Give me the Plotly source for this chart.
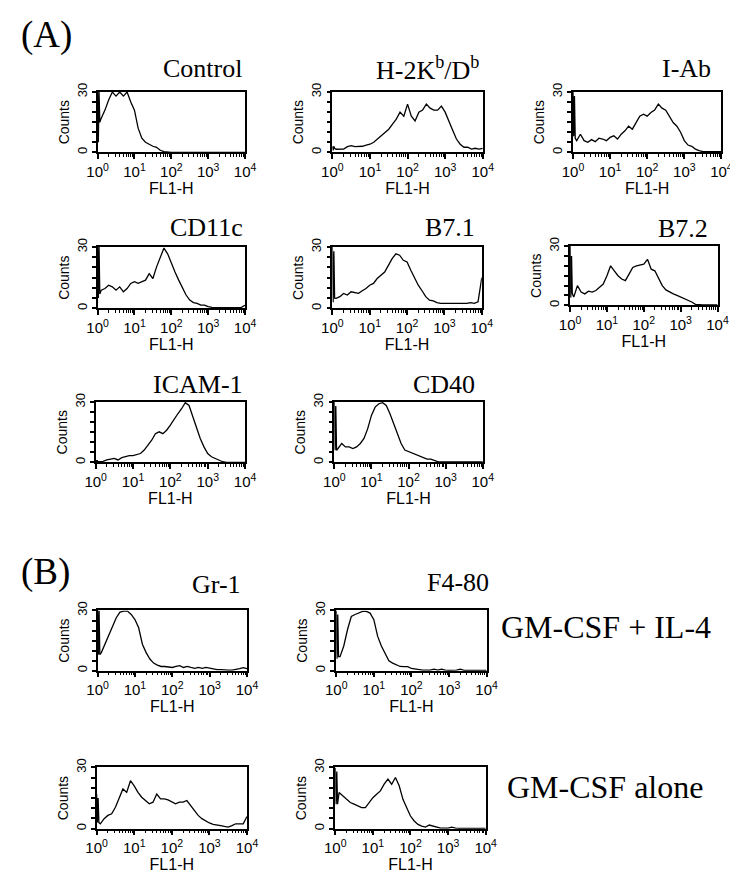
import plotly.graph_objects as go

# FL1-H channel positions, expressed as decades (10^e); first four points are the off-scale edge channels
FL1_EXPONENTS = [0.0, 0.02, 0.04, 0.06,
                 0.1, 0.2, 0.3, 0.4, 0.5, 0.6, 0.7, 0.8, 0.9, 1.0,
                 1.1, 1.2, 1.3, 1.4, 1.5, 1.6, 1.7, 1.8, 1.9, 2.0,
                 2.1, 2.2, 2.3, 2.4, 2.5, 2.6, 2.7, 2.8, 2.9, 3.0,
                 3.1, 3.2, 3.3, 3.4, 3.5, 3.6, 3.7, 3.8, 3.9, 4.0]

DECADE_TICKS = [1, 10, 100, 1000, 10000]
DECADE_LABELS = ["10<sup>0</sup>", "10<sup>1</sup>", "10<sup>2</sup>", "10<sup>3</sup>", "10<sup>4</sup>"]
MINOR_TICKS = [2, 3, 4, 5, 6, 7, 8, 9, 20, 30, 40, 50, 60, 70, 80, 90,
               200, 300, 400, 500, 600, 700, 800, 900, 2000, 3000, 4000, 5000, 6000, 7000, 8000, 9000]

PANEL_TITLES = ["Control", "H-2K<sup>b</sup>/D<sup>b</sup>", "I-Ab", "CD11c", "B7.1", "B7.2",
                "ICAM-1", "CD40", "Gr-1", "F4-80", "", ""]

CONTROL = [30, 5, 30, 15,
           17, 21, 26, 30, 28, 30, 28, 30, 25, 21,
           12, 7, 5, 4, 3, 2.5, 1, 0.3, 0, 0,
           0, 0, 0, 0, 0, 0, 0, 0, 0, 0,
           0, 0, 0, 0, 0, 0, 0, 0, 0, 0]
H2K_DB = [3, 1, 3, 2,
          1.5, 1.5, 1.6, 2.8, 3.3, 2.8, 3, 3, 3.6, 4,
          5, 6.6, 8, 10, 11.5, 14, 16.5, 20, 18, 24,
          18, 15.6, 20, 21, 24, 22, 21, 21, 23, 20,
          15, 11, 6.6, 4, 2.5, 2.5, 1.6, 2, 1.6, 2]
I_AB = [30, 8, 28, 7,
        5.8, 9, 5.8, 5, 6.3, 5.3, 7, 6.6, 5.8, 7.4,
        8.2, 6.6, 9, 10.7, 13, 11.5, 14.8, 18, 19, 18,
        19.8, 21, 24, 22, 21, 18, 14.8, 13, 10, 5.8,
        3.6, 3, 1.6, 0.8, 0.3, 0.3, 0.3, 0.3, 0.3, 0.3]
CD11C = [30, 5, 30, 7,
         8.9, 9.7, 11.3, 10.5, 8.9, 10.5, 8.1, 9.7, 12.2, 13,
         12.2, 13, 13.8, 17, 14.6, 20.3, 25, 29.5, 26.7, 21.9,
         17.8, 13.8, 9.7, 6.5, 4, 2.8, 2.4, 1.6, 1.6, 0.8,
         0.5, 0.3, 0.3, 0.3, 0.3, 0.3, 0.3, 0.3, 0.5, 1.5]
B7_1 = [30, 3, 28, 5,
        4.9, 5.7, 7.3, 6.5, 8.1, 7.6, 7.3, 8.6, 9.7, 11.3,
        12.2, 14.6, 16.2, 17.8, 21, 24.3, 26.7, 26, 23.5, 22.7,
        18.6, 14.6, 11.3, 8.6, 5.7, 4, 3.6, 2.8, 2.4, 2.4,
        2.4, 2.1, 2.4, 2.1, 2.4, 2.4, 2.8, 2.4, 3.2, 15]
B7_2 = [30, 4, 25, 6,
        4.2, 10, 6.7, 5.8, 7.2, 6.7, 7.5, 9.2, 10.8, 15,
        20, 17.5, 15, 13.3, 12.5, 15.8, 19.2, 20, 20.5, 20.8,
        23.3, 18.3, 17.5, 13.3, 10, 7.8, 6.7, 5.8, 5, 4.2,
        3.7, 2.5, 1.7, 0.5, 0.2, 0.2, 0.2, 0.2, 0.2, 0.2]
ICAM_1 = [1, 0.3, 1, 0.3,
          0.3, 0.5, 1.2, 1.6, 2, 1.2, 2.3, 2.8, 3.3, 3.3,
          4, 4.4, 6.1, 8.6, 11, 14.3, 15.2, 14.3, 16, 18.5,
          21.7, 24.2, 26.7, 29.7, 28.3, 22.6, 16.8, 11.9, 7.7, 4.4,
          2.8, 2, 1.2, 0.3, 0, 0, 0, 0, 0, 0]
CD40 = [30, 6, 28, 6,
        6.9, 9.4, 7.7, 7.7, 6.9, 7.7, 9.4, 11.9, 16.8, 23.4,
        27.5, 29.2, 29.7, 28.3, 24.2, 19.3, 13.5, 9.4, 6.1, 5.3,
        4.4, 3.6, 2.8, 2, 1.6, 1.6, 0.7, 0.2, 0.2, 0.2,
        0.2, 0.2, 0.2, 0.2, 0.2, 0.2, 0.2, 0.2, 0.2, 0.2]
GR1_GM_IL4 = [30, 8, 30, 8,
              9, 13.2, 18, 22.2, 26.4, 29.2, 29.7, 29.7, 28, 25.5,
              21.4, 13.2, 9, 5.8, 3.8, 2.8, 2.1, 2.1, 2, 1.6,
              2.1, 2.5, 1.6, 2.1, 1.6, 1.2, 1.6, 1.2, 1.6, 1.2,
              0.8, 0.5, 0.5, 0.3, 0.3, 0.3, 0.5, 1.0, 1.5, 1]
F480_GM_IL4 = [30, 6, 28, 7,
               7, 12.3, 20.5, 27, 28, 28.7, 29.5, 29.5, 28.7, 25.4,
               17.2, 12.3, 8.2, 4.9, 3.8, 2.8, 2.1, 2, 2, 1.1,
               0.8, 0.5, 0.3, 0.3, 0.3, 0.8, 0.3, 0.8, 0.3, 0.2,
               0.2, 0.3, 0.8, 0.2, 0.2, 0.2, 0.2, 0.2, 0.2, 0.2]
GR1_GM = [17, 3, 15, 3,
          2.4, 4.9, 6.5, 7.3, 10.5, 14.6, 19.5, 17.8, 23.5, 21,
          17.8, 15.4, 13.8, 12.2, 13, 17, 14.6, 14.6, 14.1, 13,
          12.2, 13, 13, 13.8, 11.3, 8.9, 6.5, 4.9, 3.7, 2.8,
          2.1, 1.9, 1.5, 1.1, 0.8, 1.5, 2.4, 2.4, 2.4, 6]
F480_GM = [30, 12, 28, 12,
           17.7, 16, 14.4, 12.8, 12, 11.1, 10.3, 10.3, 12.8, 15.2,
           16.9, 18.5, 21.8, 24.3, 21.8, 25.1, 21, 14.4, 10.3, 6.2,
           3.8, 2.1, 1.3, 0.8, 1.8, 1.3, 0.5, 0.3, 0.3, 0.3,
           0.8, 0.3, 0.2, 0.2, 0.2, 0.2, 0.2, 0.2, 0.2, 0.2]

SERIES = [CONTROL, H2K_DB, I_AB, CD11C, B7_1, B7_2, ICAM_1, CD40,
          GR1_GM_IL4, F480_GM_IL4, GR1_GM, F480_GM]

W, H = 738, 877
# plot boxes in pixels: (left, right, top, bottom)
BOXES = [(81, 233, 76, 137), (323, 478, 76, 137), (571, 724, 76, 137),
         (81, 233, 233, 295), (323, 477, 233, 295), (568, 720, 232, 292),
         (79, 233, 390, 451), (325, 478, 390, 451),
         (81, 235, 601, 662), (327, 482, 601, 662),
         (80, 235, 760, 822), (326, 481, 760, 822)]
# title anchor: right edge x, centre y
TITLE_POS = [(232, 52), (476, 52), (715, 52),
             (233, 213), (472, 213), (712, 214),
             (233, 372), (472, 372),
             (231, 575), (487, 573), (0, 0), (0, 0)]

SANS = "Liberation Sans, Arial, Helvetica, sans-serif"
SERIF = "Liberation Serif, Times New Roman, serif"

fig = go.Figure()
x_vals = [10 ** e for e in FL1_EXPONENTS]
layout = dict(width=W, height=H, margin=dict(l=0, r=0, t=0, b=0),
              paper_bgcolor="white", plot_bgcolor="white", showlegend=False)
annotations = []

for i, (ys, box) in enumerate(zip(SERIES, BOXES), start=1):
    l, r, t, b = box
    fig.add_trace(go.Scatter(x=x_vals, y=ys, mode="lines",
                             line=dict(color="black", width=1.3),
                             xaxis=f"x{i}", yaxis=f"y{i}", hoverinfo="skip"))
    xa = dict(type="log", range=[0, 4], domain=[l / W, r / W], anchor=f"y{i}",
              showline=True, linecolor="black", linewidth=1.6, mirror=True,
              ticks="outside", ticklen=5, tickwidth=1.6, tickcolor="black",
              tickvals=DECADE_TICKS, ticktext=DECADE_LABELS,
              tickfont=dict(family=SANS, size=15, color="black"),
              showgrid=False, zeroline=False,
              minor=dict(ticks="outside", ticklen=3, tickwidth=1.4, tickcolor="black",
                         tickmode="array", tickvals=MINOR_TICKS, showgrid=False),
              title=dict(text="FL1-H", font=dict(family=SANS, size=16, color="black"), standoff=1))
    ya = dict(range=[0, 30], domain=[1 - b / H, 1 - t / H], anchor=f"x{i}",
              showline=True, linecolor="black", linewidth=1.6, mirror=True,
              ticks="outside", ticklen=4, tickwidth=2, tickcolor="black",
              tickvals=[0, 30], tickangle=-90,
              tickfont=dict(family=SANS, size=13, color="black"),
              showgrid=False, zeroline=False,
              minor=dict(ticks="outside", ticklen=4, tickwidth=2, tickcolor="black",
                         dtick=5, tick0=0, showgrid=False),
              title=dict(text="Counts", font=dict(family=SANS, size=14, color="black"), standoff=2))
    layout[f"xaxis{i}"] = xa
    layout[f"yaxis{i}"] = ya
    title = PANEL_TITLES[i - 1]
    if title:
        tx, ty = TITLE_POS[i - 1]
        annotations.append(dict(text=title, x=tx / W, y=1 - ty / H, xref="paper", yref="paper",
                                xanchor="right", yanchor="middle", showarrow=False,
                                font=dict(family=SERIF, size=26, color="black")))

annotations += [
    dict(text="(A)", x=0, y=1 - 18 / H, xref="paper", yref="paper", xanchor="left",
         yanchor="middle", showarrow=False, font=dict(family=SERIF, size=37, color="black")),
    dict(text="(B)", x=0, y=1 - 562 / H, xref="paper", yref="paper", xanchor="left",
         yanchor="middle", showarrow=False, font=dict(family=SERIF, size=37, color="black")),
    dict(text="GM-CSF + IL-4", x=495 / W, y=1 - 618 / H, xref="paper", yref="paper", xanchor="left",
         yanchor="middle", showarrow=False, font=dict(family=SERIF, size=32, color="black")),
    dict(text="GM-CSF alone", x=501 / W, y=1 - 780 / H, xref="paper", yref="paper", xanchor="left",
         yanchor="middle", showarrow=False, font=dict(family=SERIF, size=32, color="black")),
]
layout["annotations"] = annotations
fig.update_layout(**layout)
fig.write_html("out.html")
